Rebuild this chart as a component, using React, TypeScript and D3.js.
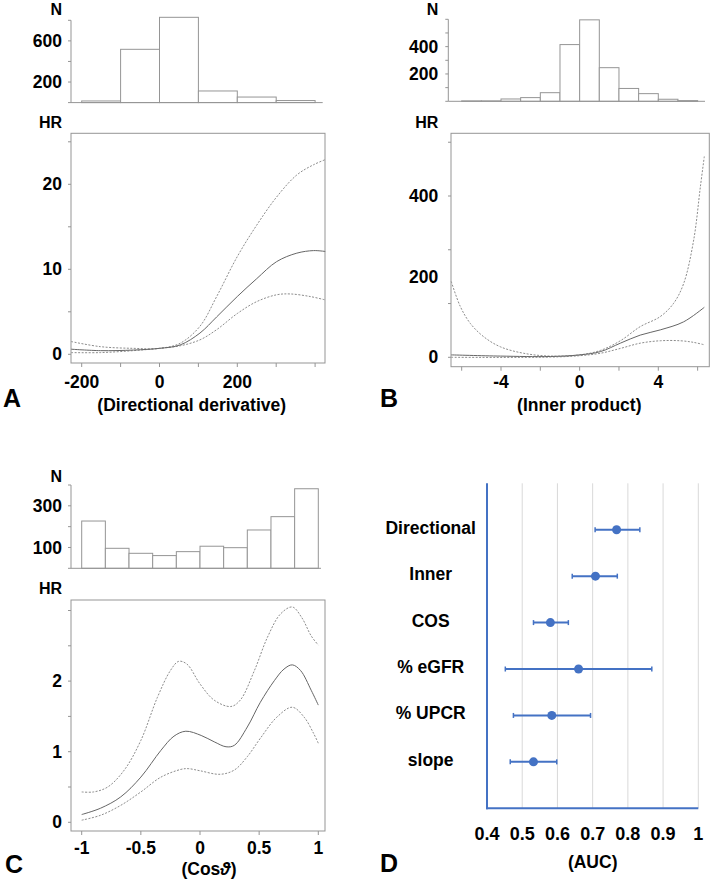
import React from 'react';
import * as d3 from 'd3';

// ---------- Panel A: Directional derivative ----------
const aHistEdges = [-200, -100, 0, 100, 200, 300, 400];
const aHistCounts = [16, 518, 829, 113, 54, 20];
const aHistTicks = [0, 200, 400, 600, 800];
const aHistLabels = [200, 600];
const aHrTicks = [0, 5, 10, 15, 20, 25];
const aHrLabels = [0, 10, 20];
const aXTicks = [-200, -100, 0, 100, 200, 300, 400];
const aXLabels = [-200, 0, 200];
const aEstX = [-227, -152, -67, 0, 53, 104, 147, 200, 250, 301, 353, 396, 426];
const aEst = [0.6, 0.43, 0.5, 0.7, 1.1, 2.5, 4.4, 6.8, 8.9, 10.9, 11.9, 12.2, 12.1];
const aUpper = [1.5, 0.9, 0.7, 0.7, 1.3, 3.3, 6.8, 11.5, 15.2, 18.5, 21.1, 22.3, 22.9];
const aLowerX = [-227, -152, -67, 0, 53, 104, 147, 200, 250, 301, 336, 387, 426];
const aLower = [0.2, 0.2, 0.43, 0.7, 1.0, 1.7, 2.9, 4.8, 6.2, 7.0, 7.1, 6.8, 6.4];

// ---------- Panel B: Inner product ----------
const bHistEdges = [-6, -5, -4, -3, -2, -1, 0, 1, 2, 3, 4, 5, 6];
const bHistCounts = [3, 3, 17, 27, 63, 415, 596, 246, 94, 56, 15, 5];
const bHistTicks = [0, 100, 200, 300, 400, 500, 600];
const bHistLabels = [200, 400];
const bHrTicks = [0, 133.33, 266.67, 400, 533.33];
const bHrLabels = [0, 200, 400];
const bXTicks = [-6, -4, -2, 0, 2, 4, 6];
const bXLabels = [-4, 0, 4];
const bEstX = [-6.53, -4.03, -1.49, 0, 1.05, 2.07, 3.08, 4.1, 5.29, 6.34];
const bEst = [6, 3, 2, 6, 14, 35, 55, 68, 88, 124];
const bUpperX = [-6.53, -6.07, -5.56, -4.88, -4.03, -2.85, -1.49, 0, 1.05, 2.07, 3.08, 4.1, 4.78, 5.29, 5.8, 6.14, 6.34];
const bUpper = [188, 126, 84, 51, 26, 10, 3, 6, 17, 41, 76, 101, 134, 183, 291, 423, 498];
const bLowerX = [-6.53, -1.49, 0, 1.05, 2.07, 3.08, 4.1, 5.12, 5.8, 6.34];
const bLower = [0, 0.5, 4, 10, 22, 35, 41, 41, 37, 31];

// ---------- Panel C: Cos theta ----------
const cHistEdges = [-1, -0.8, -0.6, -0.4, -0.2, 0, 0.2, 0.4, 0.6, 0.8, 1];
const cHistCounts = [227, 96, 72, 61, 80, 106, 99, 184, 248, 382];
const cHistTicks = [0, 100, 200, 300, 400];
const cHistLabels = [100, 300];
const cHrTicks = [0, 0.5, 1, 1.5, 2, 2.5, 3];
const cHrLabels = [0, 1, 2];
const cXTicks = [-1, -0.5, 0, 0.5, 1];
const cXLabels = [-1, -0.5, 0, 0.5, 1];
const cEstX = [-1, -0.84, -0.67, -0.5, -0.33, -0.22, -0.12, 0.01, 0.12, 0.22, 0.29, 0.4, 0.51, 0.63, 0.71, 0.78, 0.85, 0.94, 1.0];
const cEst = [0.11, 0.2, 0.36, 0.64, 1.02, 1.22, 1.29, 1.23, 1.14, 1.07, 1.09, 1.35, 1.7, 2.01, 2.17, 2.23, 2.15, 1.87, 1.66];
const cUpperX = [-1, -0.9, -0.78, -0.64, -0.5, -0.36, -0.25, -0.18, -0.11, 0, 0.12, 0.26, 0.34, 0.46, 0.57, 0.68, 0.78, 0.86, 0.94, 1.0];
const cUpper = [0.43, 0.43, 0.5, 0.74, 1.16, 1.77, 2.15, 2.28, 2.24, 1.96, 1.73, 1.64, 1.73, 2.15, 2.62, 2.95, 3.05, 2.9, 2.64, 2.51];
const cLowerX = [-1, -0.84, -0.67, -0.5, -0.33, -0.16, -0.1, 0, 0.17, 0.29, 0.4, 0.51, 0.65, 0.78, 0.88, 0.96, 1.0];
const cLower = [0.03, 0.1, 0.24, 0.43, 0.64, 0.75, 0.76, 0.73, 0.68, 0.74, 0.93, 1.19, 1.49, 1.63, 1.49, 1.26, 1.12];

// ---------- Panel D: AUC ----------
const dCategories = ['Directional', 'Inner', 'COS', '% eGFR', '% UPCR', 'slope'];
const dAuc = [0.768, 0.708, 0.58, 0.66, 0.584, 0.532];
const dLow = [0.707, 0.642, 0.532, 0.452, 0.475, 0.466];
const dHigh = [0.834, 0.77, 0.631, 0.868, 0.694, 0.598];
const dTicks = [0.4, 0.5, 0.6, 0.7, 0.8, 0.9, 1.0];

const FONT = "'Liberation Sans', Arial, sans-serif";
const AXIS = '#959595';
const SOLID = '#666666';
const DASH = '#8c8c8c';

type PanelProps = {
  histEdges: number[]; histCounts: number[]; histTicks: number[]; histLabels: number[];
  hrTicks: number[]; hrLabels: number[]; xTicks: number[]; xLabels: number[];
  estX: number[]; est: number[]; upX: number[]; up: number[]; loX: number[]; lo: number[];
  xDom: [number, number]; xRng: [number, number];
  hDom: [number, number]; hRng: [number, number];
  yDom: [number, number]; yRng: [number, number];
  histAxisX: number; histTop: number; histRight: number;
  box: { x0: number; x1: number; y0: number; y1: number };
  labelRight: number; nBase: number; hrBase: number;
  xLabelBase: number; title: React.ReactNode; titleX: number; titleBase: number;
  letter: string; letterX: number; letterBase: number;
};

function Panel(p: PanelProps) {
  const x = d3.scaleLinear().domain(p.xDom).range(p.xRng);
  const h = d3.scaleLinear().domain(p.hDom).range(p.hRng);
  const y = d3.scaleLinear().domain(p.yDom).range(p.yRng);
  const line = d3.line<[number, number]>()
    .x((d) => x(d[0]))
    .y((d) => y(d[1]))
    .curve(d3.curveCatmullRom.alpha(0.5));
  const pts = (xs: number[], ys: number[]) => xs.map((v, i) => [v, ys[i]] as [number, number]);
  const base = h(0);
  return (
    <g>
      {/* histogram */}
      <text x={p.labelRight} y={p.nBase} textAnchor="end" fontSize={16} fontWeight="bold">N</text>
      <line x1={p.histAxisX} x2={p.histAxisX} y1={h(p.histTicks[p.histTicks.length - 1])} y2={base} stroke={AXIS} />
      {p.histTicks.map((t) => (
        <line key={'ht' + t} x1={p.histAxisX - 3} x2={p.histAxisX} y1={h(t)} y2={h(t)} stroke={AXIS} />
      ))}
      {p.histLabels.map((t) => (
        <text key={'hl' + t} x={p.labelRight} y={h(t)} dy="0.35em" textAnchor="end" fontSize={17.5} fontWeight="bold">{t}</text>
      ))}
      {p.histCounts.map((c, i) => (
        <rect key={'bar' + i} x={x(p.histEdges[i])} y={h(c)} width={x(p.histEdges[i + 1]) - x(p.histEdges[i])}
          height={base - h(c)} fill="#fff" stroke={AXIS} strokeWidth={1} />
      ))}
      <line x1={p.histAxisX} x2={p.histRight} y1={base} y2={base} stroke={AXIS} />

      {/* HR plot */}
      <text x={p.labelRight} y={p.hrBase} textAnchor="end" fontSize={16} fontWeight="bold">HR</text>
      <rect x={p.box.x0} y={p.box.y0} width={p.box.x1 - p.box.x0} height={p.box.y1 - p.box.y0} fill="none" stroke={AXIS} />
      {p.hrTicks.map((t) => (
        <line key={'yt' + t} x1={p.box.x0 - 3} x2={p.box.x0} y1={y(t)} y2={y(t)} stroke={AXIS} />
      ))}
      {p.hrLabels.map((t) => (
        <text key={'yl' + t} x={p.labelRight} y={y(t)} dy="0.35em" textAnchor="end" fontSize={17.5} fontWeight="bold">{t}</text>
      ))}
      {p.xTicks.map((t) => (
        <line key={'xt' + t} x1={x(t)} x2={x(t)} y1={p.box.y1} y2={p.box.y1 + 4} stroke={AXIS} />
      ))}
      {p.xLabels.map((t) => (
        <text key={'xl' + t} x={x(t)} y={p.xLabelBase} textAnchor="middle" fontSize={17.5} fontWeight="bold">{String(t)}</text>
      ))}
      <path d={line(pts(p.upX, p.up)) || ''} fill="none" stroke={DASH} strokeWidth={1} strokeDasharray="2,1.5" />
      <path d={line(pts(p.loX, p.lo)) || ''} fill="none" stroke={DASH} strokeWidth={1} strokeDasharray="2,1.5" />
      <path d={line(pts(p.estX, p.est)) || ''} fill="none" stroke={SOLID} strokeWidth={1} />
      <text x={p.titleX} y={p.titleBase} textAnchor="middle" fontSize={17.5} fontWeight="bold">{p.title}</text>
      <text x={p.letterX} y={p.letterBase} fontSize={25} fontWeight="bold">{p.letter}</text>
    </g>
  );
}

function PanelD() {
  const x = d3.scaleLinear().domain([0.4, 1.0]).range([487, 698.3]);
  const y = d3.scalePoint<string>().domain(dCategories).range([483.3, 808.3]).padding(1);
  const blue = '#4472C4';
  return (
    <g>
      {dTicks.slice(1).map((t) => (
        <line key={'g' + t} x1={x(t)} x2={x(t)} y1={483.3} y2={808.3} stroke="#d9d9d9" strokeWidth={1} />
      ))}
      <line x1={487} x2={487} y1={483.3} y2={809.3} stroke={blue} strokeWidth={2} />
      <line x1={486} x2={698.3} y1={808.3} y2={808.3} stroke={blue} strokeWidth={2} />
      {dTicks.map((t) => (
        <text key={'l' + t} x={x(t)} y={840} textAnchor="middle" fontSize={18} fontWeight="bold">
          {t === 1 ? '1' : t.toFixed(1)}
        </text>
      ))}
      <text x={592.7} y={868} textAnchor="middle" fontSize={17.5} fontWeight="bold">(AUC)</text>
      {dCategories.map((c, i) => {
        const cy = y(c) as number;
        return (
          <g key={c}>
            <text x={430.7} y={cy + 4} textAnchor="middle" fontSize={17.5} fontWeight="bold">{c}</text>
            <line x1={x(dLow[i])} x2={x(dHigh[i])} y1={cy} y2={cy} stroke={blue} strokeWidth={2} />
            <line x1={x(dLow[i])} x2={x(dLow[i])} y1={cy - 2.5} y2={cy + 2.5} stroke={blue} strokeWidth={1.5} />
            <line x1={x(dHigh[i])} x2={x(dHigh[i])} y1={cy - 2.5} y2={cy + 2.5} stroke={blue} strokeWidth={1.5} />
            <circle cx={x(dAuc[i])} cy={cy} r={4.5} fill={blue} />
          </g>
        );
      })}
      <text x={380} y={872} fontSize={25} fontWeight="bold">D</text>
    </g>
  );
}

export default function App() {
  return (
    <svg width={713} height={884} viewBox="0 0 713 884"
      style={{ position: 'absolute', left: 0, top: 0, background: '#fff' }} fontFamily={FONT}>
      <rect x={0} y={0} width={713} height={884} fill="#fff" />
      <Panel
        histEdges={aHistEdges} histCounts={aHistCounts} histTicks={aHistTicks} histLabels={aHistLabels}
        hrTicks={aHrTicks} hrLabels={aHrLabels} xTicks={aXTicks} xLabels={aXLabels}
        estX={aEstX} est={aEst} upX={aEstX} up={aUpper} loX={aLowerX} lo={aLower}
        xDom={[-200, 200]} xRng={[81.7, 237.3]}
        hDom={[0, 800]} hRng={[102.6, 20.3]}
        yDom={[0, 10]} yRng={[354.3, 269.3]}
        histAxisX={71} histTop={20.3} histRight={322.7}
        box={{ x0: 71, x1: 325, y0: 133.3, y1: 363 }}
        labelRight={62} nBase={15} hrBase={128.3}
        xLabelBase={388.3} title="(Directional derivative)" titleX={191.7} titleBase={410.5}
        letter="A" letterX={3} letterBase={406.7}
      />
      <Panel
        histEdges={bHistEdges} histCounts={bHistCounts} histTicks={bHistTicks} histLabels={bHistLabels}
        hrTicks={bHrTicks} hrLabels={bHrLabels} xTicks={bXTicks} xLabels={bXLabels}
        estX={bEstX} est={bEst} upX={bUpperX} up={bUpper} loX={bLowerX} lo={bLower}
        xDom={[-4, 4]} xRng={[501, 658.3]}
        hDom={[0, 600]} hRng={[101.3, 19.3]}
        yDom={[0, 400]} yRng={[357.3, 196]}
        histAxisX={448.3} histTop={19.3} histRight={705}
        box={{ x0: 451, x1: 709.3, y0: 133.3, y1: 366.7 }}
        labelRight={438.3} nBase={15} hrBase={128.3}
        xLabelBase={388.3} title="(Inner product)" titleX={579.3} titleBase={410.5}
        letter="B" letterX={380} letterBase={406.7}
      />
      <Panel
        histEdges={cHistEdges} histCounts={cHistCounts} histTicks={cHistTicks} histLabels={cHistLabels}
        hrTicks={cHrTicks} hrLabels={cHrLabels} xTicks={cXTicks} xLabels={cXLabels}
        estX={cEstX} est={cEst} upX={cUpperX} up={cUpper} loX={cLowerX} lo={cLower}
        xDom={[-1, 1]} xRng={[81.7, 318.3]}
        hDom={[0, 400]} hRng={[568.3, 485]}
        yDom={[0, 1]} yRng={[822.3, 751.7]}
        histAxisX={71} histTop={485} histRight={321}
        box={{ x0: 71, x1: 325, y0: 600, y1: 831 }}
        labelRight={62} nBase={482.3} hrBase={594}
        xLabelBase={854.3}
        title={<>(Cos<tspan fontStyle="italic">ϑ</tspan>)</>} titleX={209} titleBase={875}
        letter="C" letterX={5} letterBase={873.3}
      />
      <PanelD />
    </svg>
  );
}
